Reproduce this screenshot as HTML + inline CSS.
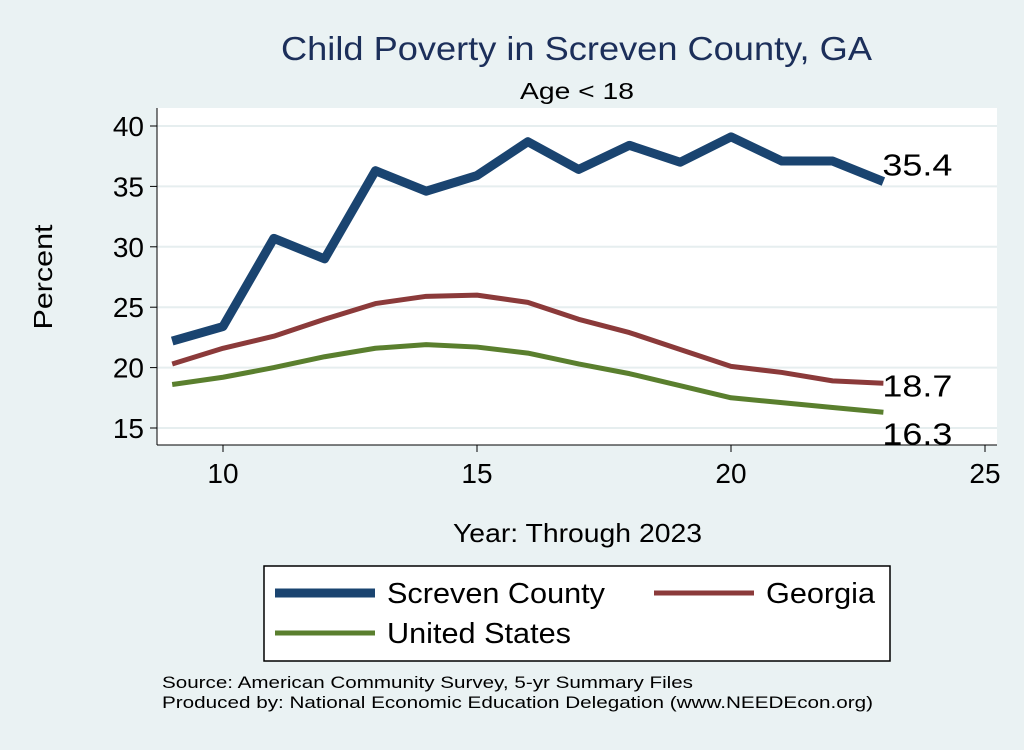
<!DOCTYPE html>
<html><head><meta charset="utf-8"><style>
body{margin:0;background:#eaf2f3;font-family:"Liberation Sans",sans-serif}
svg text{font-family:"Liberation Sans",sans-serif}
</style></head><body>
<svg id="c" width="1024" height="745" xmlns="http://www.w3.org/2000/svg">
<rect x="0" y="0" width="1024" height="745" fill="#eaf2f3"/>
<text x="281" y="60" font-size="33" fill="#1c2f5a" textLength="591" lengthAdjust="spacingAndGlyphs">Child Poverty in Screven County, GA</text>
<text x="520" y="99" font-size="23" textLength="114" lengthAdjust="spacingAndGlyphs">Age &lt; 18</text>
<rect x="157" y="108" width="840" height="337" fill="#fff"/>
<g id="grid"></g><g id="axes"></g><g id="series"></g>
<text x="52" y="277" font-size="26" text-anchor="middle" textLength="105" lengthAdjust="spacingAndGlyphs" transform="rotate(-90 52 277)">Percent</text>
<text x="453" y="542" font-size="26" textLength="249" lengthAdjust="spacingAndGlyphs">Year: Through 2023</text>
<g>
<rect x="264" y="566" width="626" height="95" fill="#fff" stroke="#000" stroke-width="1.5"/>
<g><line x1="275" y1="593" x2="375" y2="593" stroke="#1a4470" stroke-width="9"/><text x="387" y="603" font-size="29" textLength="218" lengthAdjust="spacingAndGlyphs">Screven County</text></g>
<g><line x1="654" y1="593" x2="754" y2="593" stroke="#8b3a3a" stroke-width="5"/><text x="766" y="603" font-size="29" textLength="109" lengthAdjust="spacingAndGlyphs">Georgia</text></g>
<g><line x1="275" y1="633" x2="375" y2="633" stroke="#5a7f2e" stroke-width="5"/><text x="387" y="643" font-size="29" textLength="184" lengthAdjust="spacingAndGlyphs">United States</text></g>
</g>
<text x="162" y="688" font-size="17" textLength="531" lengthAdjust="spacingAndGlyphs">Source: American Community Survey, 5-yr Summary Files</text>
<text x="162" y="708" font-size="17" textLength="711" lengthAdjust="spacingAndGlyphs">Produced by: National Economic Education Delegation (www.NEEDEcon.org)</text>
</svg>
<script>
const years=[9,10,11,12,13,14,15,16,17,18,19,20,21,22,23];
const screven=[22.2,23.4,30.7,29.0,36.3,34.6,35.9,38.7,36.4,38.4,37.0,39.1,37.1,37.1,35.4];
const georgia=[20.3,21.6,22.6,24.0,25.3,25.9,26.0,25.4,24.0,22.9,21.5,20.1,19.6,18.9,18.7];
const us=[18.6,19.2,20.0,20.9,21.6,21.9,21.7,21.2,20.3,19.5,18.5,17.5,17.1,16.7,16.3];
const xTicks=[10,15,20,25];
const yTicks=[15,20,25,30,35,40];
const NS="http://www.w3.org/2000/svg";
const xs=v=>223+(v-10)*50.8;
const ys=v=>428-(v-15)*12.08;
function mk(t,a,p){const e=document.createElementNS(NS,t);for(const k in a)e.setAttribute(k,a[k]);document.getElementById(p).appendChild(e);return e;}
yTicks.forEach(t=>{
 const g=mk('line',{x1:157,x2:997,y1:ys(t),y2:ys(t),stroke:'#e6eeef','stroke-width':2},'grid');
 
 
 mk('line',{x1:150,x2:157,y1:ys(t),y2:ys(t),stroke:'#000'},'axes');
 const l=mk('text',{x:144,y:ys(t)+10,'font-size':28,'text-anchor':'end'},'axes');l.textContent=t;
 
 
});
xTicks.forEach(t=>{
 mk('line',{x1:xs(t),x2:xs(t),y1:445,y2:452,stroke:'#000'},'axes');
 const l=mk('text',{x:xs(t),y:483,'font-size':28,'text-anchor':'middle'},'axes');l.textContent=t;
 
 
});
mk('line',{x1:157,x2:157,y1:108,y2:445,stroke:'#000'},'axes');
mk('line',{x1:157,x2:997,y1:445,y2:445,stroke:'#000'},'axes');
function series(d,color,w,name,dy){
 const p=mk('polyline',{points:years.map((y,i)=>xs(y)+','+ys(d[i])).join(' '),fill:'none',stroke:color,'stroke-width':w,'stroke-linejoin':'round'},'series');
 
 
 const n=d.length-1;
 const t=mk('text',{x:xs(years[n])-1,y:ys(d[n])+dy,'font-size':31,textLength:70,lengthAdjust:'spacingAndGlyphs'},'series');t.textContent=d[n].toFixed(1);
 
 
}
series(us,'#5a7f2e',5,'us-line',32);
series(georgia,'#8b3a3a',5,'georgia-line',13);
series(screven,'#1a4470',9,'screven-line',-6);
</script>
</body></html>
